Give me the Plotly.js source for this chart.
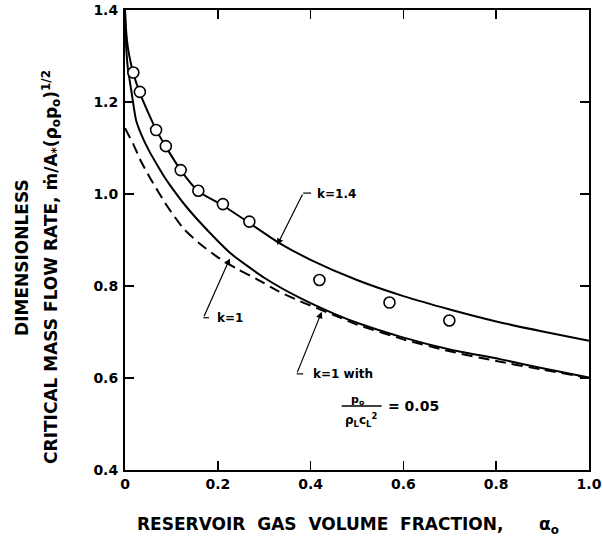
<!DOCTYPE html>
<html>
<head>
<meta charset="utf-8">
<script src="https://cdn.plot.ly/plotly-3.0.1.min.js"></script>
<style>
body { margin: 0; background: #fff; }
#chart { width: 603px; height: 542px; }
</style>
</head>
<body>
<div id="chart"></div>
<script>
// Open-circle data points
const circX = [0.018, 0.032, 0.067, 0.088, 0.120, 0.158, 0.211, 0.268, 0.419, 0.570, 0.699];
const circY = [1.264, 1.222, 1.139, 1.104, 1.052, 1.007, 0.978, 0.940, 0.813, 0.764, 0.725];

// k = 1.4 curve
const k14X = [0, 0.002, 0.006, 0.012, 0.018, 0.032, 0.05, 0.067, 0.088, 0.12, 0.158, 0.211, 0.268, 0.33, 0.4, 0.5, 0.6, 0.7, 0.8, 0.9, 1.0];
const k14Y = [1.40, 1.36, 1.32, 1.287, 1.262, 1.220, 1.177, 1.140, 1.103, 1.052, 1.006, 0.975, 0.937, 0.895, 0.857, 0.813, 0.778, 0.749, 0.723, 0.701, 0.681];

// k = 1 curve
const k1X = [0, 0.002, 0.006, 0.014, 0.024, 0.04, 0.054, 0.07, 0.085, 0.1, 0.13, 0.162, 0.2, 0.23, 0.3, 0.377, 0.45, 0.5, 0.593, 0.7, 0.808, 0.9, 1.0];
const k1Y = [1.40, 1.33, 1.275, 1.222, 1.160, 1.118, 1.090, 1.062, 1.037, 1.015, 0.975, 0.938, 0.898, 0.869, 0.818, 0.774, 0.740, 0.720, 0.690, 0.662, 0.641, 0.621, 0.601];

// k = 1 with p0/(rhoL cL^2) = 0.05 (dashed)
const kdX = [0, 0.017, 0.035, 0.054, 0.09, 0.126, 0.16, 0.198, 0.24, 0.284, 0.33, 0.377, 0.45, 0.5, 0.6, 0.7, 0.8, 0.9, 1.0];
const kdY = [1.143, 1.110, 1.070, 1.035, 0.975, 0.925, 0.893, 0.864, 0.838, 0.815, 0.789, 0.767, 0.737, 0.716, 0.684, 0.658, 0.637, 0.618, 0.600];

// Tick labels
const xTickVals = [0, 0.2, 0.4, 0.6, 0.8, 1.0];
const xTickText = ['0', '0.2', '0.4', '0.6', '0.8', '1.0'];
const yTickVals = [0.4, 0.6, 0.8, 1.0, 1.2, 1.4];
const yTickText = ['0.4', '0.6', '0.8', '1.0', '1.2', '1.4'];

const FONT = 'DejaVu Sans, sans-serif';
const lineStyle = {color: '#000', width: 2, shape: 'spline', smoothing: 0.6};

const traces = [
  {x: k14X, y: k14Y, mode: 'lines', line: lineStyle, hoverinfo: 'skip'},
  {x: k1X, y: k1Y, mode: 'lines', line: lineStyle, hoverinfo: 'skip'},
  {x: kdX, y: kdY, mode: 'lines', line: {color: '#000', width: 2, dash: '11px,6px', shape: 'spline', smoothing: 0.6}, hoverinfo: 'skip'},
  {x: circX, y: circY, mode: 'markers',
   marker: {symbol: 'circle', size: 11, color: '#fff', line: {color: '#000', width: 1.6}}}
];

const lbl = (text, x, y, size, xanchor) => ({
  text: text, x: x, y: y, xref: 'x', yref: 'y', showarrow: false,
  xanchor: xanchor || 'left', yanchor: 'middle',
  font: {family: FONT, size: size || 12, color: '#000', weight: 'bold'}
});
const arrow = (x, y, ax, ay) => ({
  text: '', x: x, y: y, ax: ax, ay: ay, xref: 'x', yref: 'y', axref: 'x', ayref: 'y',
  showarrow: true, arrowhead: 2, arrowsize: 1.1, arrowwidth: 1.2, arrowcolor: '#000'
});
const seg = (x0, y0, x1, y1, w) => ({
  type: 'line', xref: 'x', yref: 'y', x0: x0, y0: y0, x1: x1, y1: y1,
  line: {color: '#000', width: w || 1.2}
});

const annotations = [
  lbl('k=1.4', 0.409, 1.0),
  arrow(0.328, 0.889, 0.384, 1.002),
  lbl('k=1', 0.194, 0.730),
  arrow(0.226, 0.860, 0.169, 0.731),
  lbl('k=1 with', 0.401, 0.609),
  arrow(0.424, 0.744, 0.370, 0.609),
  lbl('p<sub>o</sub>', 0.502, 0.552, 11, 'center'),
  lbl('ρ<sub>L</sub>c<sub>L</sub><sup>2</sup>', 0.509, 0.508, 12, 'center'),
  lbl('= 0.05', 0.562, 0.539, 14),
  {text: 'DIMENSIONLESS', xref: 'paper', yref: 'paper', x: -0.221, y: 0.462,
   xanchor: 'center', yanchor: 'middle', textangle: -90, showarrow: false,
   font: {family: FONT, size: 17, color: '#000', weight: 'bold'}},
  {text: 'CRITICAL MASS FLOW RATE, ṁ/A<sub>*</sub>(ρ<sub>o</sub>p<sub>o</sub>)<sup>1/2</sup>',
   xref: 'paper', yref: 'paper', x: -0.160, y: 0.441,
   xanchor: 'center', yanchor: 'middle', textangle: -90, showarrow: false,
   font: {family: FONT, size: 17, color: '#000', weight: 'bold'}},
  {text: 'RESERVOIR  GAS  VOLUME  FRACTION,      α<sub>o</sub>', xref: 'paper', yref: 'paper',
   x: 0.48, y: -0.12, xanchor: 'center', yanchor: 'middle', showarrow: false,
   font: {family: FONT, size: 17, color: '#000', weight: 'bold'}}
];

const shapes = [
  seg(0.384, 1.002, 0.401, 1.002),
  seg(0.169, 0.731, 0.181, 0.731),
  seg(0.370, 0.609, 0.384, 0.609),
  seg(0.467, 0.539, 0.553, 0.539, 1.5)
];

const axisCommon = {
  showgrid: false, zeroline: false, showline: true, linecolor: '#000', linewidth: 2,
  mirror: 'allticks', ticks: 'inside', ticklen: 9, tickwidth: 1.6, tickcolor: '#000',
  tickfont: {family: FONT, size: 14, color: '#000', weight: 'bold'}, fixedrange: true
};

const layout = {
  width: 603, height: 542,
  margin: {l: 125, r: 14, t: 10, b: 72},
  paper_bgcolor: '#fff', plot_bgcolor: '#fff',
  showlegend: false,
  xaxis: Object.assign({}, axisCommon, {range: [0, 1], tickvals: xTickVals, ticktext: xTickText, ticklabelstandoff: 0}),
  yaxis: Object.assign({}, axisCommon, {range: [0.4, 1.4], tickvals: yTickVals, ticktext: yTickText, ticklabelstandoff: 2}),
  annotations: annotations,
  shapes: shapes
};

Plotly.newPlot('chart', traces, layout, {staticPlot: true, displayModeBar: false});
</script>
</body>
</html>
